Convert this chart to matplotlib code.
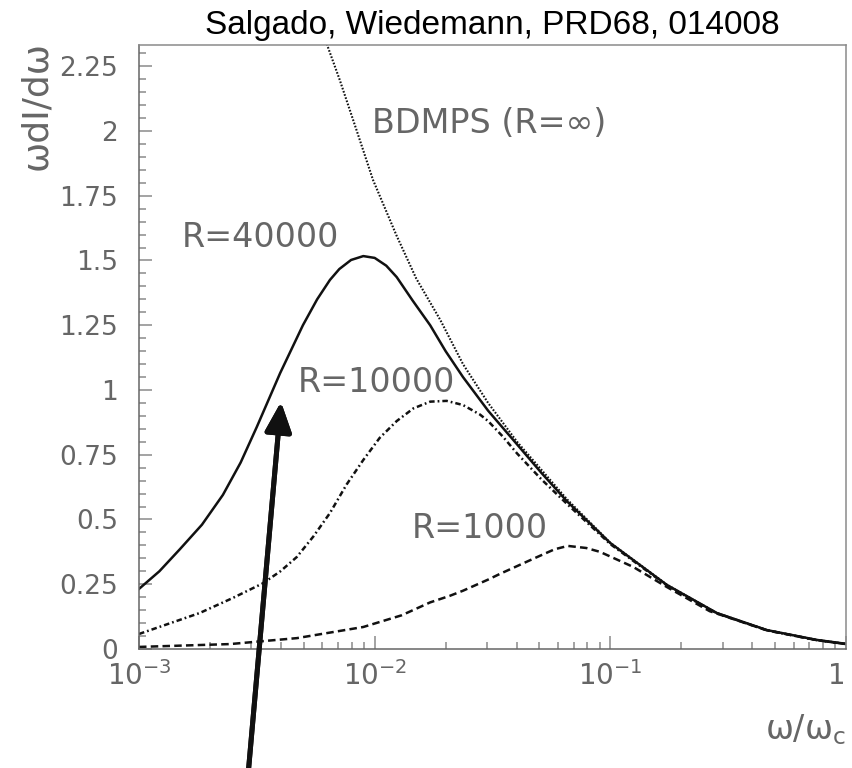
import numpy as np
import matplotlib.pyplot as plt
from matplotlib.ticker import FixedLocator, MultipleLocator, LogLocator, NullFormatter

# data (x = omega/omega_c, y = omega dI/domega)
x_r40000 = [1.0e-3, 1.22e-3, 1.49e-3, 1.85e-3, 2.27e-3, 2.7e-3, 3.16e-3, 3.97e-3,
            4.96e-3, 5.7e-3, 6.46e-3, 7.08e-3, 7.94e-3, 8.95e-3, 1.0e-2, 1.12e-2,
            1.24e-2, 1.45e-2, 1.72e-2, 2.0e-2, 2.37e-2, 3.03e-2, 4.02e-2, 5.1e-2,
            6.55e-2, 0.10, 0.174, 0.283, 0.462, 0.753, 1.0]
y_r40000 = [0.232, 0.30, 0.385, 0.48, 0.595, 0.72, 0.857, 1.065,
            1.25, 1.35, 1.425, 1.467, 1.502, 1.517, 1.51, 1.48,
            1.436, 1.345, 1.25, 1.15, 1.05, 0.92, 0.79, 0.68,
            0.57, 0.409, 0.247, 0.139, 0.073, 0.035, 0.02]

x_r10000 = [1.0e-3, 1.81e-3, 2.5e-3, 3.36e-3, 3.98e-3, 4.67e-3, 5.5e-3, 6.46e-3,
            7.6e-3, 8.95e-3, 1.05e-2, 1.24e-2, 1.46e-2, 1.72e-2, 2.02e-2, 2.37e-2,
            2.8e-2, 3.03e-2, 3.5e-2, 4.02e-2, 5.1e-2, 6.55e-2, 0.10, 0.174,
            0.283, 0.462, 0.753, 1.0]
y_r10000 = [0.058, 0.139, 0.197, 0.254, 0.30, 0.355, 0.435, 0.525,
            0.635, 0.73, 0.815, 0.88, 0.929, 0.955, 0.958, 0.942,
            0.905, 0.88, 0.82, 0.755, 0.655, 0.56, 0.405, 0.245,
            0.138, 0.072, 0.034, 0.019]

x_r1000 = [1.0e-3, 2.43e-3, 4.68e-3, 8.95e-3, 1.3e-2, 1.72e-2, 2.08e-2, 2.37e-2,
           3.03e-2, 3.40e-2, 4.70e-2, 5.8e-2, 6.6e-2, 7.9e-2, 9.04e-2, 0.125,
           0.174, 0.264, 0.462, 0.753, 1.0]
y_r1000 = [0.008, 0.019, 0.042, 0.085, 0.13, 0.18, 0.205, 0.225,
           0.268, 0.29, 0.348, 0.385, 0.398, 0.39, 0.375, 0.317,
           0.239, 0.146, 0.072, 0.034, 0.019]

x_bdmps = [6.0e-3, 6.28e-3, 7.11e-3, 8.4e-3, 9.84e-3, 1.24e-2, 1.50e-2, 1.9e-2,
           2.37e-2, 3.03e-2, 4.02e-2, 6.55e-2, 0.10, 0.174, 0.283, 0.462, 0.753, 1.0]
y_bdmps = [2.385, 2.333, 2.197, 2.0, 1.811, 1.595, 1.431, 1.27,
           1.10, 0.95, 0.80, 0.578, 0.41, 0.248, 0.139, 0.073, 0.035, 0.02]

y_ticks = [0, 0.25, 0.5, 0.75, 1, 1.25, 1.5, 1.75, 2, 2.25]
y_tick_labels = ['0', '0.25', '0.5', '0.75', '1', '1.25', '1.5', '1.75', '2', '2.25']
x_ticks = [1e-3, 1e-2, 1e-1, 1]
x_tick_labels = [r'$\mathregular{10^{-3}}$', r'$\mathregular{10^{-2}}$',
                 r'$\mathregular{10^{-1}}$', '1']

grey = '#666666'
frame = '#8a8a8a'
ink = '#111111'

fig = plt.figure(figsize=(8.52, 7.68), dpi=100)
ax = fig.add_axes([139 / 852, 119 / 768, 707 / 852, 604 / 768])

ax.plot(x_r40000, y_r40000, color=ink, lw=1.8, solid_joinstyle='round')
ax.plot(x_r10000, y_r10000, color=ink, lw=1.8, dashes=(2.2, 1.2, 0.7, 1.2))
ax.plot(x_r1000, y_r1000, color=ink, lw=1.8, dashes=(3.0, 1.7))
ax.plot(x_bdmps, y_bdmps, color=ink, lw=1.5, dashes=(0.8, 0.8))

ax.set_xscale('log')
ax.set_xlim(1e-3, 1)
ax.set_ylim(0, 2.332)

ax.xaxis.set_major_locator(FixedLocator(x_ticks))
ax.set_xticklabels(x_tick_labels)
ax.get_xticklabels()[-1].set_horizontalalignment('right')
ax.xaxis.set_minor_locator(LogLocator(base=10, subs=np.arange(2, 10)))
ax.xaxis.set_minor_formatter(NullFormatter())
ax.set_yticks(y_ticks)
ax.set_yticklabels(y_tick_labels)
ax.yaxis.set_minor_locator(MultipleLocator(0.05))

ax.tick_params(which='both', direction='in', color=frame, width=1.1,
               top=False, right=False, labelcolor=grey)
ax.tick_params(which='major', length=9.5)
ax.tick_params(which='minor', length=4.7)
ax.tick_params(axis='x', pad=9, labelsize=20)
ax.tick_params(axis='y', pad=15, labelsize=19)
for s in ax.spines.values():
    s.set_color(frame)
    s.set_linewidth(1.1)
ax.spines['left'].set_color('#666666')
ax.spines['bottom'].set_color('#666666')

# curve labels
lab = dict(color=grey, fontsize=24, va='baseline')
ax.text(3.29e-3, 1.552, 'R=40000', ha='center', **lab)
ax.text(1.02e-2, 0.992, 'R=10000', ha='center', **lab)
ax.text(2.80e-2, 0.429, 'R=1000', ha='center', **lab)
ax.text(9.75e-3, 1.992, 'BDMPS (R=\u221e)', ha='left', **lab)

# axis titles
fig.text(36 / 852, 1 - 105 / 768, '\u03c9dI/d\u03c9', rotation=90, ha='center',
         va='center', color=grey, fontsize=26)
fig.text(846 / 852, 1 - 730 / 768, '\u03c9/\u03c9$_\\mathregular{c}$', ha='right',
         va='center', color=grey, fontsize=24)

ax.set_title('Salgado, Wiedemann, PRD68, 014008', fontsize=24,
             family=['Liberation Sans', 'DejaVu Sans'], color='black', pad=8)

# thick arrow pointing at the R=40000 curve
fig.add_artist(plt.annotate('', xy=(281 / 852, 1 - 402 / 768), xycoords='figure fraction',
                            xytext=(248 / 852, -0.01), textcoords='figure fraction',
                            annotation_clip=False,
                            arrowprops=dict(arrowstyle='-|>,head_length=1.0,head_width=0.45',
                                            mutation_scale=18, lw=3.6, color=ink,
                                            shrinkA=0, shrinkB=0)))

fig.savefig('out.png', dpi=100)
